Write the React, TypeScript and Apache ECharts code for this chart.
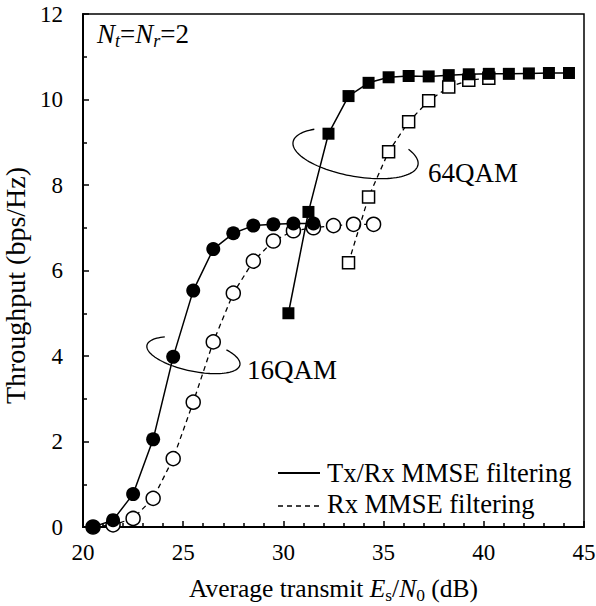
import React, { useEffect, useRef } from "react";
import * as echarts from "echarts";

// ---- data ----
const txrx16X = [20.5, 21.5, 22.5, 23.5, 24.5, 25.5, 26.5, 27.5, 28.5, 29.5, 30.5, 31.5];
const txrx16Y = [0, 0.16, 0.77, 2.05, 3.98, 5.53, 6.5, 6.87, 7.05, 7.08, 7.1, 7.1];
const rx16X = [20.5, 21.5, 22.5, 23.5, 24.5, 25.5, 26.5, 27.5, 28.5, 29.5, 30.5, 31.5, 32.5, 33.5, 34.5];
const rx16Y = [0, 0.05, 0.2, 0.67, 1.6, 2.92, 4.33, 5.47, 6.22, 6.69, 6.93, 7.0, 7.05, 7.08, 7.08];
const txrx64X = [30.25, 31.25, 32.25, 33.25, 34.25, 35.25, 36.25, 37.25, 38.25, 39.25, 40.25, 41.25, 42.25, 43.25, 44.25];
const txrx64Y = [5.0, 7.37, 9.2, 10.08, 10.39, 10.52, 10.55, 10.54, 10.57, 10.59, 10.6, 10.6, 10.61, 10.62, 10.62];
const rx64X = [33.25, 34.25, 35.25, 36.25, 37.25, 38.25, 39.25, 40.25];
const rx64Y = [6.18, 7.72, 8.78, 9.48, 9.97, 10.29, 10.45, 10.5];

const legendLabels = ["Tx/Rx MMSE filtering", "Rx MMSE filtering"];
const annotationLabels = ["16QAM", "64QAM"];
const annotationCenterX = [25.51, 33.6];
const annotationCenterY = [4.02, 8.74];

// annotation ellipse shapes (pixel geometry)
const ELLIPSES = [
  { rx: 47.5, ry: 16, rot: 12, t0: -49, t1: 228, tx: 53.5, ty: 15 },
  { rx: 63.5, ry: 23, rot: 10.4, t0: -36, t1: 225, tx: 72.5, ty: 19.5 },
];

const FONT = "Liberation Serif, Times New Roman, serif";

const zip = (xs: number[], ys: number[]) => xs.map((x, i) => [x, ys[i]]);

export default function App() {
  const ref = useRef<HTMLDivElement>(null);
  useEffect(() => {
    if (!ref.current) return;
    const chart = echarts.init(ref.current, null, { renderer: "svg" });

    const axisCommon = {
      axisLine: { show: true, lineStyle: { color: "#000", width: 2 } },
      axisTick: { show: true, inside: true, length: 6, lineStyle: { color: "#000", width: 1.5 } },
      minorTick: { show: true, length: 4, lineStyle: { color: "#000", width: 1.5 } },
      splitLine: { show: false },
      axisLabel: { color: "#000", fontFamily: FONT, fontSize: 23 },
    };

    const legendGraphics: any[] = [];
    legendLabels.forEach((label, i) => {
      const y = i === 0 ? 473 : 506;
      legendGraphics.push({
        type: "line",
        shape: { x1: 278, y1: y, x2: 320, y2: y },
        style: { stroke: "#000", lineWidth: i === 0 ? 2 : 1.3, lineDash: i === 0 ? null : [5, 4] },
      });
      legendGraphics.push({
        type: "text",
        x: 327,
        y: i === 0 ? 473 : 504,
        style: {
          text: label,
          fontFamily: FONT,
          fontSize: 26.5,
          fill: "#000",
          align: "left",
          verticalAlign: "middle",
        },
      });
    });

    const option: any = {
      animation: false,
      backgroundColor: "#fff",
      textStyle: { fontFamily: FONT },
      grid: {
        left: 83,
        top: 14,
        width: 501,
        height: 513,
        show: true,
        borderColor: "#000",
        borderWidth: 1.5,
        containLabel: false,
        outerBoundsMode: "none",
      },
      xAxis: {
        type: "value",
        min: 20,
        max: 45,
        interval: 5,
        ...axisCommon,
        minorTick: { ...axisCommon.minorTick, splitNumber: 5 },
        axisLabel: { ...axisCommon.axisLabel, margin: 14 },
        name: "Average transmit {i|E}{sub|s}/{i|N}{sub|0} (dB)",
        nameLocation: "middle",
        nameGap: 45,
        nameTextStyle: {
          color: "#000",
          fontFamily: FONT,
          fontSize: 25.5,
          rich: {
            i: { fontFamily: FONT, fontSize: 25.5, fontStyle: "italic", color: "#000" },
            sub: { fontFamily: FONT, fontSize: 17.5, color: "#000", verticalAlign: "bottom", padding: [14, 0, 0, 0] },
          },
        },
      },
      yAxis: {
        type: "value",
        min: 0,
        max: 12,
        interval: 2,
        ...axisCommon,
        minorTick: { ...axisCommon.minorTick, splitNumber: 2 },
        axisLabel: { ...axisCommon.axisLabel, margin: 20 },
        name: "Throughput (bps/Hz)",
        nameLocation: "middle",
        nameGap: 50,
        nameTextStyle: { color: "#000", fontFamily: FONT, fontSize: 28, padding: [0, 30, 0, 0] },
      },
      graphic: [
        {
          type: "text",
          left: 97,
          top: 20,
          style: {
            text: "{i|N}{si|t}{n|=}{i|N}{si|r}{n|=2}",
            rich: {
              i: { fontFamily: FONT, fontSize: 27, fontStyle: "italic", fill: "#000", lineHeight: 32 },
              si: { fontFamily: FONT, fontSize: 18, fontStyle: "italic", fill: "#000", verticalAlign: "bottom", lineHeight: 18 },
              n: { fontFamily: FONT, fontSize: 27, fill: "#000", lineHeight: 32 },
            },
          },
        },
        ...legendGraphics,
      ],
      series: [
        {
          type: "line",
          name: "rx16",
          data: zip(rx16X, rx16Y),
          symbol: "circle",
          symbolSize: 14,
          lineStyle: { color: "#000", width: 1.3, type: [5, 4] },
          itemStyle: { color: "#fff", borderColor: "#000", borderWidth: 1.5 },
          z: 2,
        },
        {
          type: "line",
          name: "rx64",
          data: zip(rx64X, rx64Y),
          symbol: "rect",
          symbolSize: 12,
          lineStyle: { color: "#000", width: 1.3, type: [5, 4] },
          itemStyle: { color: "#fff", borderColor: "#000", borderWidth: 1.5 },
          z: 3,
        },
        {
          type: "line",
          name: "txrx16",
          data: zip(txrx16X, txrx16Y),
          symbol: "circle",
          symbolSize: 14,
          lineStyle: { color: "#000", width: 1.5 },
          itemStyle: { color: "#000", borderColor: "#000", borderWidth: 0 },
          z: 4,
        },
        {
          type: "line",
          name: "txrx64",
          data: zip(txrx64X, txrx64Y),
          symbol: "rect",
          symbolSize: 12,
          lineStyle: { color: "#000", width: 1.5 },
          itemStyle: { color: "#000", borderColor: "#000", borderWidth: 0 },
          z: 5,
        },
        {
          type: "custom",
          name: "annotations",
          silent: true,
          z: 6,
          clip: false,
          data: annotationCenterX.map((x, i) => [x, annotationCenterY[i]]),
          renderItem: (params: any, api: any) => {
            const e = ELLIPSES[params.dataIndex];
            const c = api.coord([api.value(0), api.value(1)]);
            const th = (e.rot * Math.PI) / 180;
            const pts: number[][] = [];
            const N = 80;
            for (let k = 0; k <= N; k++) {
              const t = ((e.t0 + ((e.t1 - e.t0) * k) / N) * Math.PI) / 180;
              const x0 = e.rx * Math.cos(t);
              const y0 = e.ry * Math.sin(t);
              pts.push([
                c[0] + x0 * Math.cos(th) - y0 * Math.sin(th),
                c[1] + x0 * Math.sin(th) + y0 * Math.cos(th),
              ]);
            }
            return {
              type: "group",
              children: [
                {
                  type: "polyline",
                  shape: { points: pts },
                  style: { stroke: "#000", lineWidth: 1.3, fill: null },
                },
                {
                  type: "text",
                  x: c[0] + e.tx,
                  y: c[1] + e.ty,
                  style: {
                    text: annotationLabels[params.dataIndex],
                    fontFamily: FONT,
                    fontSize: 27,
                    fill: "#000",
                    align: "left",
                    verticalAlign: "middle",
                  },
                },
              ],
            };
          },
        },
      ],
    };

    chart.setOption(option);
    return () => chart.dispose();
  }, []);

  return (
    <div
      ref={ref}
      style={{ position: "absolute", left: 0, top: 0, width: 596, height: 606, background: "#fff" }}
    />
  );
}
